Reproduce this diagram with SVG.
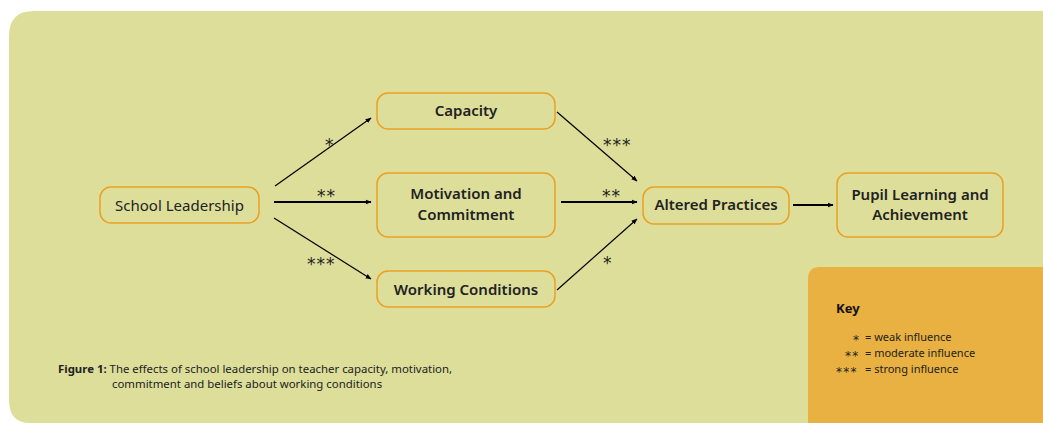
<svg xmlns="http://www.w3.org/2000/svg" width="1043" height="423" viewBox="0 0 1043 423">
<defs>
<style>
.node{fill:#DCDE9A;stroke:#EBA024;stroke-width:1.5}
.t{font-family:"Noto Sans","Open Sans",sans-serif;font-size:15px;fill:#222;text-anchor:middle}
.b{font-weight:600}
.c{stroke:#000;stroke-width:1.2;fill:none;marker-end:url(#ah)}
.c2{stroke:#000;stroke-width:2;fill:none;marker-end:url(#ah2)}
.star{font-family:"DejaVu Sans",sans-serif;font-size:17px;fill:#222;letter-spacing:1px}
.ks{font-family:"DejaVu Sans",sans-serif;font-size:12px;fill:#222;letter-spacing:1.3px}
.k{font-family:"Noto Sans","Open Sans",sans-serif;font-size:11px;fill:#222}
.cap{font-family:"Noto Sans","Open Sans",sans-serif;font-size:11.4px;fill:#222}
</style>
<marker id="ah" viewBox="0 0 10 10" refX="9" refY="5" markerWidth="5" markerHeight="5" orient="auto" markerUnits="strokeWidth"><path d="M0,1 L10,5 L0,9 z" fill="#000"/></marker>
<marker id="ah2" viewBox="0 0 10 10" refX="9" refY="5" markerWidth="3" markerHeight="3" orient="auto" markerUnits="strokeWidth"><path d="M0,1 L10,5 L0,9 z" fill="#000"/></marker>
</defs>
<rect width="1043" height="423" fill="#fff"/>
<path d="M34,11 H1060 V423 H30 Q9,423 9,400 V36 Q9,11 34,11 Z" fill="#DCDE9A"/>
<path d="M820,267 H1043 V423 H808 V279 Q808,267 820,267 Z" fill="#E9B042"/>
<g id="connectors">
<line class="c" x1="275" y1="186" x2="371" y2="118"/>
<line class="c2" x1="274" y1="202" x2="371" y2="202"/>
<line class="c" x1="274" y1="218" x2="371" y2="279"/>
<line class="c" x1="557" y1="112" x2="637" y2="181"/>
<line class="c2" x1="561" y1="202" x2="637" y2="202"/>
<line class="c" x1="557" y1="290" x2="637" y2="219"/>
<line class="c2" x1="793" y1="205" x2="833" y2="205"/>
<text class="star" x="325" y="151">*</text>
<text class="star" x="317" y="202">**</text>
<text class="star" x="307" y="270">***</text>
<text class="star" x="603" y="151">***</text>
<text class="star" x="602" y="202">**</text>
<text class="star" x="603" y="269">*</text>
</g>
<g id="school-leadership"><rect class="node" x="100" y="187" width="159" height="36" rx="11"/><text class="t" x="179.5" y="211">School Leadership</text></g>
<g id="capacity"><rect class="node" x="377" y="93" width="178" height="36" rx="11"/><text class="t b" x="466" y="116">Capacity</text></g>
<g id="motivation"><rect class="node" x="377" y="173" width="178" height="64" rx="11"/><text class="t b" x="466" y="199">Motivation and</text><text class="t b" x="466" y="220">Commitment</text></g>
<g id="working-conditions"><rect class="node" x="377" y="271" width="178" height="36" rx="11"/><text class="t b" x="466" y="295">Working Conditions</text></g>
<g id="altered-practices"><rect class="node" x="643" y="187" width="146" height="37" rx="11"/><text class="t b" x="716" y="210">Altered Practices</text></g>
<g id="pupil-learning"><rect class="node" x="837" y="173" width="166" height="64" rx="11"/><text class="t b" x="920" y="200">Pupil Learning and</text><text class="t b" x="920" y="220">Achievement</text></g>
<g id="key">
<text x="836" y="313" font-family="Noto Sans, sans-serif" font-size="13" font-weight="700" fill="#111">Key</text>
<text class="ks" x="853" y="344">*</text>
<text class="ks" x="845" y="360">**</text>
<text class="ks" x="836" y="376">***</text>
<text class="k" x="865" y="341">= weak influence</text>
<text class="k" x="865" y="357">= moderate influence</text>
<text class="k" x="865" y="373">= strong influence</text>
</g>
<g id="caption">
<text class="cap" x="58" y="373"><tspan font-weight="700">Figure 1:</tspan> The effects of school leadership on teacher capacity, motivation,</text>
<text class="cap" x="112" y="388">commitment and beliefs about working conditions</text>
</g>
</svg>
